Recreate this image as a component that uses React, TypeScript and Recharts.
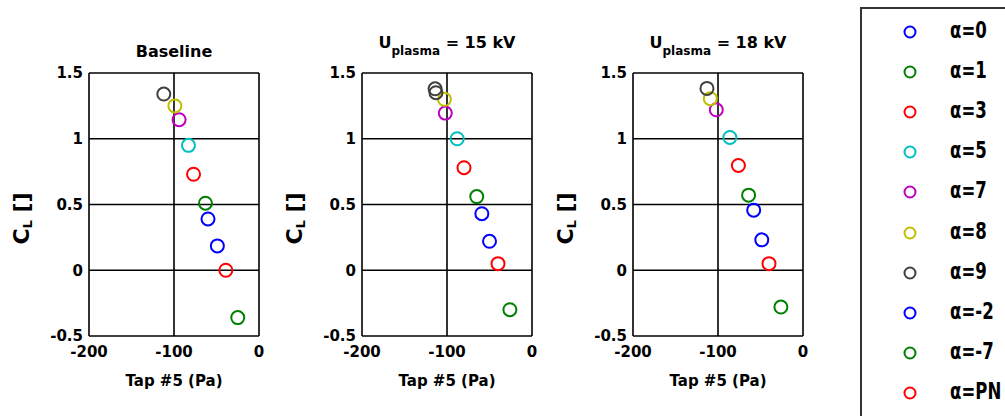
import React from 'react';
import { ScatterChart, Scatter, XAxis, YAxis, CartesianGrid, Label } from 'recharts';

const ALPHA_LABELS = ['α=0', 'α=1', 'α=3', 'α=5', 'α=7', 'α=8', 'α=9', 'α=-2', 'α=-7', 'α=PN'];
const SERIES_COLORS = ['#0000ff', '#008000', '#ff0000', '#00bfbf', '#bf00bf', '#bfbf00', '#404040', '#0000ff', '#008000', '#ff0000'];

const X_TICKS = [-200, -100, 0];
const Y_TICKS = [-0.5, 0, 0.5, 1, 1.5];

// Tap #5 pressure (Pa) and CL, one value per alpha in legend order
const BASELINE_X = [-60, -63, -77, -83, -94, -99, -112, -49, -25, -39];
const BASELINE_Y = [0.39, 0.51, 0.73, 0.95, 1.145, 1.25, 1.34, 0.185, -0.36, 0.0];

const KV15_X = [-59, -65, -80, -88, -102, -103, -114, -50, -26, -40];
const KV15_Y = [0.43, 0.56, 0.78, 1.0, 1.195, 1.3, 1.38, 0.22, -0.3, 0.05];
// second alpha=9 point in the 15 kV case
const KV15_EXTRA_SERIES = [6];
const KV15_EXTRA_X = [-113];
const KV15_EXTRA_Y = [1.35];

const KV18_X = [-58, -64, -76, -86, -102, -109, -113, -48.5, -26, -40];
const KV18_Y = [0.457, 0.571, 0.797, 1.01, 1.22, 1.305, 1.383, 0.231, -0.28, 0.05];

const FONT = "'DejaVu Sans', Arial, sans-serif";
const tickStyle = { fontSize: 15, fontWeight: 'bold', fill: '#000', fontFamily: FONT };

const ring = (color: string, r: number) => (props: any) => (
  <circle cx={props.cx} cy={props.cy} r={r} fill="none" stroke={color} strokeWidth={2} />
);

const YLabel = (props: any) => {
  const vb = props.viewBox;
  const cx = vb.x + vb.width - 68;
  const cy = vb.y + vb.height / 2 + 14;
  return (
    <text
      x={cx}
      y={cy}
      transform={`rotate(-90, ${cx}, ${cy})`}
      textAnchor="middle"
      dominantBaseline="central"
      style={{ fontSize: 22, fontWeight: 'bold', fontFamily: FONT }}
      fill="#000"
    >
      C<tspan fontSize={13} dy={6}>L</tspan>
      <tspan dy={-6}> []</tspan>
    </text>
  );
};

const XLabel = (props: any) => {
  const vb = props.viewBox;
  return (
    <text
      x={vb.x + vb.width / 2}
      y={vb.y + 45}
      textAnchor="middle"
      dominantBaseline="central"
      style={{ fontSize: 15, fontWeight: 'bold', fontFamily: FONT }}
      fill="#000"
    >
      Tap #5 (Pa)
    </text>
  );
};

function Panel({ left, title, xs, ys, extraSeries = [], extraX = [], extraY = [] }: any) {
  const series = ALPHA_LABELS.map((name, i) => {
    const pts = [{ x: xs[i], y: ys[i] }];
    extraSeries.forEach((s: number, k: number) => {
      if (s === i) pts.push({ x: extraX[k], y: extraY[k] });
    });
    return { name, color: SERIES_COLORS[i], pts };
  });

  return (
    <div style={{ position: 'absolute', left, top: 0, width: 280, height: 416 }}>
      <div
        style={{
          position: 'absolute', left: 89, width: 170, textAlign: 'center',
          top: title.sub ? 35 : 44, lineHeight: '16px', fontSize: 16,
          fontWeight: 'bold', fontFamily: FONT, whiteSpace: 'nowrap',
        }}
      >
        {title.main}
        {title.sub && <sub style={{ fontSize: 12, verticalAlign: 'baseline', position: 'relative', top: 7 }}>{title.sub}</sub>}
        {title.rest}
      </div>
      <ScatterChart width={280} height={416} margin={{ top: 73, right: 21, bottom: 50, left: 49 }}>
        <CartesianGrid stroke="#000" strokeWidth={1.6} fill="none" />
        <XAxis
          type="number" dataKey="x" domain={[-200, 0]} ticks={X_TICKS} interval={0}
          tickLine={false} axisLine={false} tickSize={0} tickMargin={10} height={30}
          tick={tickStyle}
        >
          <Label content={XLabel} />
        </XAxis>
        <YAxis
          type="number" dataKey="y" domain={[-0.5, 1.5]} ticks={Y_TICKS} interval={0}
          tickLine={false} axisLine={false} tickSize={0} tickMargin={6} width={40}
          tick={tickStyle}
        >
          <Label content={YLabel} />
        </YAxis>
        {series.map((s) => (
          <Scatter key={s.name} name={s.name} data={s.pts} shape={ring(s.color, 6.5)} isAnimationActive={false} />
        ))}
      </ScatterChart>
    </div>
  );
}

function AlphaLegend() {
  return (
    <div
      style={{
        position: 'absolute', left: 860, top: 7, width: 170, height: 430,
        border: '2px solid #333', boxShadow: '1px 1px 0 #999', background: '#fff',
      }}
    >
      {ALPHA_LABELS.map((name, i) => (
        <div
          key={name}
          style={{
            position: 'absolute', left: 0, top: 32 + 40.1 * i - 20 - 9, height: 40,
            display: 'flex', alignItems: 'center',
          }}
        >
          <svg width={16} height={16} style={{ position: 'absolute', left: 40, top: 12 }}>
            <circle cx={8} cy={8} r={5.5} fill="none" stroke={SERIES_COLORS[i]} strokeWidth={2} />
          </svg>
          <span
            style={{
              position: 'absolute', left: 88, top: 5, fontSize: 23, lineHeight: '26px',
              fontWeight: 'bold', whiteSpace: 'nowrap',
              transform: 'scaleX(0.72)', transformOrigin: 'left center',
              fontFamily: FONT,
            }}
          >
            {name}
          </span>
        </div>
      ))}
    </div>
  );
}

export default function App() {
  return (
    <div style={{ position: 'fixed', left: 0, top: 0, width: 1005, height: 416, overflow: 'hidden', background: '#fff' }}>
      <Panel left={0} title={{ main: 'Baseline' }} xs={BASELINE_X} ys={BASELINE_Y} />
      <Panel
        left={273} title={{ main: 'U', sub: 'plasma', rest: ' = 15 kV' }}
        xs={KV15_X} ys={KV15_Y}
        extraSeries={KV15_EXTRA_SERIES} extraX={KV15_EXTRA_X} extraY={KV15_EXTRA_Y}
      />
      <Panel left={544} title={{ main: 'U', sub: 'plasma', rest: ' = 18 kV' }} xs={KV18_X} ys={KV18_Y} />
      <AlphaLegend />
    </div>
  );
}
